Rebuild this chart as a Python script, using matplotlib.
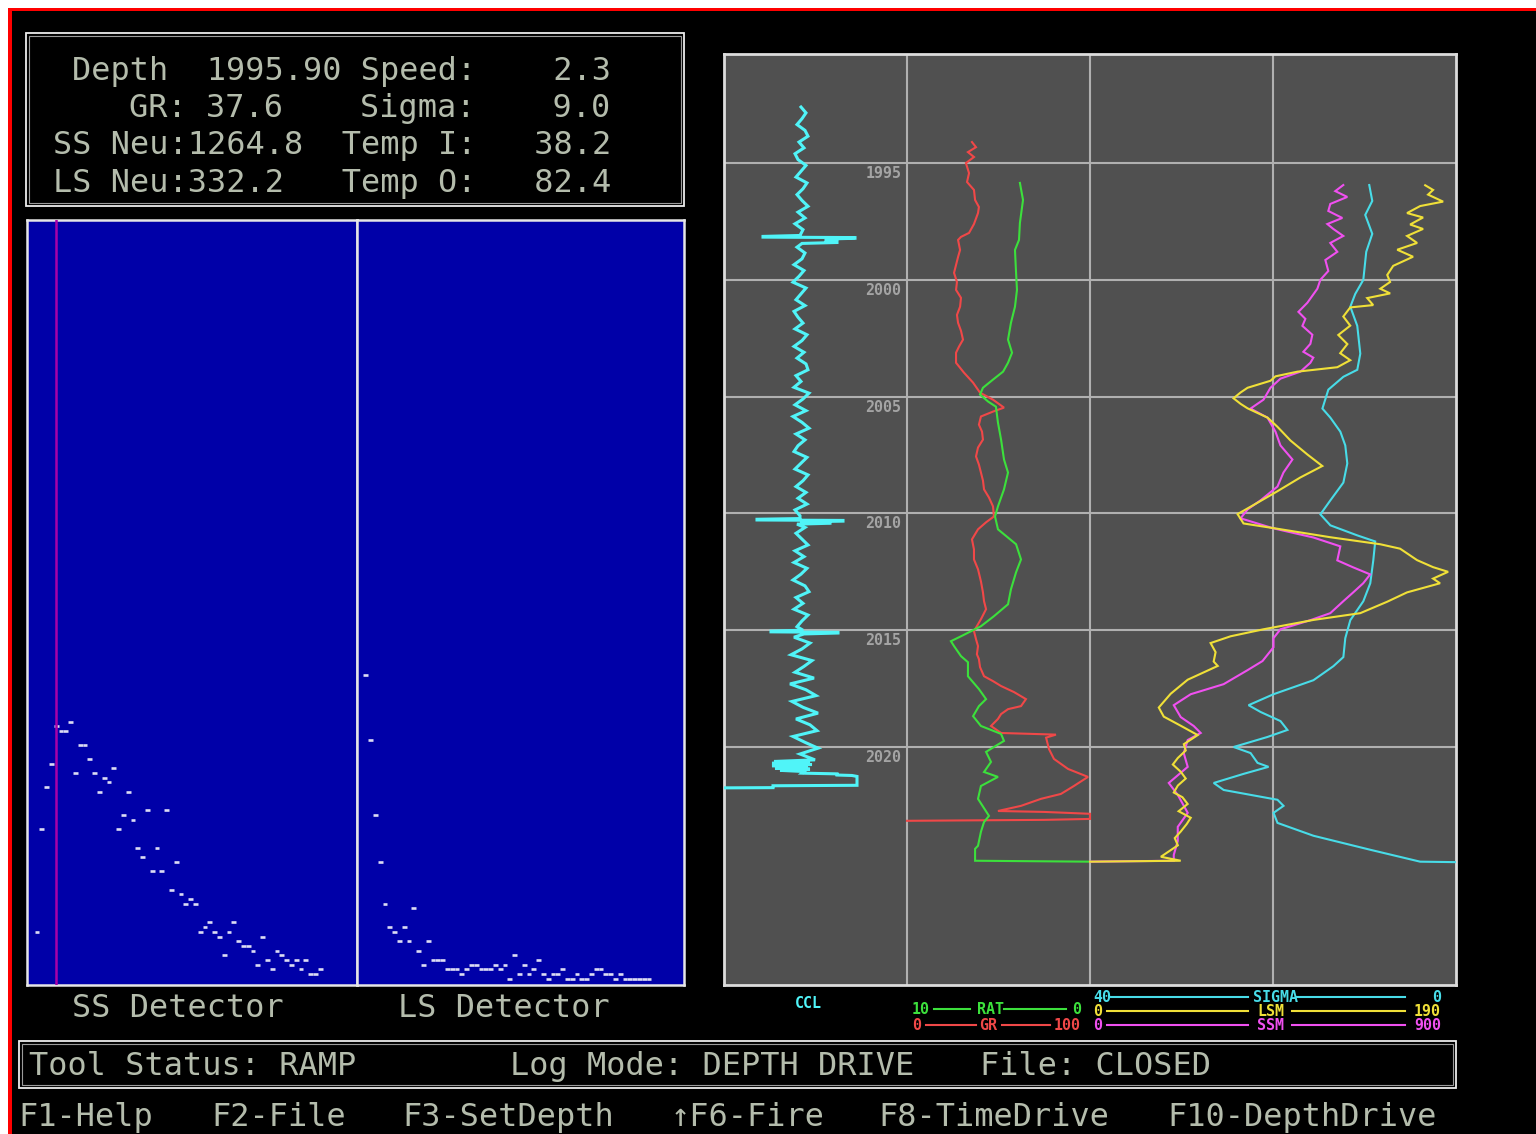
import matplotlib
matplotlib.use("Agg")
import matplotlib.pyplot as plt
from matplotlib.patches import Rectangle

W, H = 1536, 1134
MONO = ["DejaVu Sans Mono"]

# ---------------- readout / status text ----------------
readout_lines = [
    "    Depth  1995.90 Speed:    2.3",
    "       GR: 37.6    Sigma:    9.0",
    "   SS Neu:1264.8  Temp I:   38.2",
    "   LS Neu:332.2   Temp O:   82.4",
]
status_items = ["Tool Status: RAMP", "Log Mode: DEPTH DRIVE", "File: CLOSED"]
key_items = ["F1-Help", "F2-File", "F3-SetDepth", "\u2191F6-Fire", "F8-TimeDrive", "F10-DepthDrive"]
detector_titles = ["SS Detector", "LS Detector"]

# ---------------- detector time spectra ----------------
ss_channel = list(range(2, 62))
ss_level = [10, 32, 41, 46, 54, 53, 53, 55, 44, 50, 50, 47, 44, 40, 43, 42, 45, 32, 35, 40,
            34, 28, 26, 36, 23, 28, 23, 36, 19, 25, 18, 16, 17, 16, 10, 11, 12, 10, 9, 5,
            10, 12, 8, 7, 7, 6, 3, 9, 4, 2, 6, 5, 4, 3, 4, 2, 4, 1, 1, 2]
ss_gate = 5.875

ls_channel = list(range(1, 61))
ls_level = [65, 51, 35, 25, 16, 11, 10, 8, 11, 8, 15, 6, 3, 8, 4, 4, 4, 2, 2, 2,
            1, 2, 3, 3, 2, 2, 2, 3, 2, 3, 0, 5, 1, 3, 1, 2, 4, 1, 0, 1,
            1, 2, 0, 0, 1, 0, 0, 1, 2, 2, 1, 1, 0, 1, 0, 0, 0, 0, 0, 0]

# ---------------- depth log ----------------
depth_top, depth_base = 1990.33, 2030.19
grid_depths = [1995, 2000, 2005, 2010, 2015, 2020]

ccl_depth = [
    1992.60, 1992.85, 1993.10, 1993.35, 1993.60, 1993.85, 1994.10, 1994.35, 1994.60, 1994.85,
    1995.10, 1995.35, 1995.60, 1995.85, 1996.10, 1996.35, 1996.60, 1996.85, 1997.10, 1997.35,
    1997.60, 1997.85,
    1998.10, 1998.14, 1998.17, 1998.19, 1998.22, 1998.25, 1998.33, 1998.36, 1998.40, 1998.44,
    1998.60, 1998.85, 1999.10, 1999.35, 1999.60, 1999.85, 2000.10, 2000.35, 2000.60, 2000.85,
    2001.10, 2001.35, 2001.60, 2001.85, 2002.10, 2002.35, 2002.60, 2002.85, 2003.10, 2003.35,
    2003.60, 2003.85, 2004.10, 2004.35, 2004.60, 2004.85, 2005.10, 2005.35, 2005.60, 2005.85,
    2006.10, 2006.35, 2006.60, 2006.85, 2007.10, 2007.35, 2007.60, 2007.85, 2008.10, 2008.35,
    2008.60, 2008.85, 2009.10, 2009.35, 2009.60, 2009.85, 2010.10,
    2010.22, 2010.25, 2010.28, 2010.30, 2010.33, 2010.36, 2010.39, 2010.42, 2010.46,
    2010.60, 2010.85, 2011.10, 2011.35, 2011.60, 2011.85, 2012.10, 2012.35, 2012.60, 2012.85,
    2013.10, 2013.35, 2013.60, 2013.85, 2014.10, 2014.35, 2014.60, 2014.85,
    2015.00, 2015.04, 2015.07, 2015.09, 2015.12, 2015.16,
    2015.30, 2015.55, 2015.80, 2016.05, 2016.30, 2016.55, 2016.80, 2017.05, 2017.30, 2017.55,
    2017.80, 2018.05, 2018.30, 2018.55, 2018.80, 2019.05, 2019.30, 2019.55, 2019.80, 2020.05,
    2020.30, 2020.55,
    2020.62, 2020.66, 2020.70, 2020.75, 2020.80, 2020.85, 2020.90, 2020.95, 2021.00, 2021.05,
    2021.12, 2021.15, 2021.20, 2021.22, 2021.26, 2021.64, 2021.66, 2021.74, 2021.75,
]
ccl_value = [
    0.1, 0.6, 0.2, -0.3, 0.5, 0.8, -0.1, 0.4, -0.5, -0.2,
    0.6, 0.1, -0.4, 0.7, 0.3, -0.3, 0.2, 0.8, -0.2, 0.5,
    -0.5, 0.3,
    0.0, -3.7, -3.7, 5.5, 5.5, 2.8, 2.5, 3.7, 3.7, 0.2,
    -0.3, 0.5, 0.2, -0.6, 0.4, -0.1, -0.7, 0.6, 0.1, -0.4,
    0.5, -0.6, -0.2, 0.3, -0.5, 0.7, 0.2, -0.6, 0.4, -0.3,
    0.6, 0.8, -0.4, 0.1, -0.6, 0.9, 0.3, -0.5, 0.6, -0.7,
    0.2, 0.9, -0.4, 0.5, -0.2, -0.6, 0.7, 0.1, -0.5, 0.8,
    0.3, -0.4, 0.6, -0.2, 0.7, -0.5, 0.0,
    0.0, -4.3, -4.3, 4.3, 4.3, 0.0, 3.0, 3.0, -0.3,
    0.5, -0.4, 0.2, 0.8, -0.5, 0.4, -0.6, 0.7, 0.1, -0.7,
    0.5, 0.9, -0.4, 0.3, -0.6, 0.8, 0.2, -0.3,
    0.3, -2.9, -2.9, 3.8, 3.8, 0.4,
    -0.6, 1.0, 0.2, -0.9, 1.2, 0.4, -0.5, 1.4, -1.0, 0.6,
    1.6, -0.8, 0.3, 1.8, -0.4, 1.0, 1.7, -0.7, 0.5, 1.8,
    0.0, 1.5,
    -2.6, 1.0, -2.8, 1.2, -2.8, 0.8, -2.5, 1.0, -2.0, 0.4,
    0.2, 3.7, 3.7, 5.2, 5.7, 5.7, -2.7, -2.7, -7.6,
]

gr_depth = [
    1994.10, 1994.32, 1994.53, 1994.74, 1995.00, 1995.43, 1995.81, 1996.15, 1996.58, 1996.88,
    1997.14, 1997.61, 1997.99, 1998.16, 1998.29, 1998.72, 1999.02, 1999.36, 1999.70, 2000.09,
    2000.43, 2000.77, 2001.15, 2001.50, 2001.84, 2002.18, 2002.56, 2002.86, 2003.12, 2003.55,
    2003.97, 2004.40, 2004.83, 2005.13, 2005.47, 2005.64, 2005.85, 2006.20, 2006.50, 2006.84,
    2007.18, 2007.56, 2007.91, 2008.25, 2008.59, 2008.97, 2009.32, 2009.70, 2010.13, 2010.38,
    2010.68, 2011.11, 2011.54, 2011.97, 2012.39, 2012.91, 2013.38, 2013.76, 2014.10, 2014.53,
    2015.04, 2015.38, 2015.68, 2016.03, 2016.24, 2016.58, 2016.97, 2017.18, 2017.39, 2017.65,
    2017.95, 2018.25, 2018.38, 2018.59, 2018.80, 2019.10, 2019.40, 2019.47, 2019.60, 2020.09,
    2020.51, 2020.94, 2021.28, 2021.67, 2022.01, 2022.22, 2022.52, 2022.74, 2022.78, 2022.86,
    2023.08, 2023.12, 2023.16,
]
gr_value = [
    35.5, 37.7, 33.3, 36.6, 32.2, 33.9, 32.8, 36.6, 37.2, 39.3,
    38.8, 36.6, 33.9, 29.5, 27.9, 29.0, 27.9, 26.8, 25.7, 27.3,
    26.8, 29.5, 29.0, 27.3, 27.9, 29.5, 30.6, 28.4, 26.8, 26.8,
    31.1, 36.1, 39.9, 47.0, 53.0, 47.0, 40.4, 39.3, 41.0, 41.5,
    38.8, 37.7, 39.3, 40.4, 41.5, 42.1, 44.8, 47.0, 47.5, 43.2,
    38.8, 35.5, 36.6, 36.6, 38.8, 40.4, 41.5, 42.1, 43.2, 40.4,
    36.6, 37.7, 38.8, 38.2, 39.3, 39.9, 42.1, 47.0, 51.4, 58.5,
    65.0, 62.3, 55.2, 51.4, 49.7, 45.9, 51.4, 81.4, 76.0, 77.6,
    80.3, 88.0, 98.9, 91.2, 84.1, 73.2, 62.3, 49.7, 74.9, 100.0,
    100.0, 74.9, 0.0,
]

rat_depth = [
    1995.85, 1996.58, 1997.56, 1998.29, 1998.72, 1999.70, 2000.43, 2001.15, 2001.84, 2002.56,
    2003.12, 2003.55, 2003.93, 2004.27, 2004.62, 2004.91, 2005.21, 2005.43, 2006.11, 2006.84,
    2007.69, 2008.25, 2008.97, 2009.70, 2010.13, 2010.68, 2011.32, 2011.97, 2012.52, 2013.25,
    2013.89, 2014.40, 2014.83, 2015.26, 2015.47, 2015.68, 2016.11, 2016.37, 2016.97, 2017.52,
    2017.95, 2018.25, 2018.68, 2019.10, 2019.44, 2019.74, 2020.00, 2020.21, 2020.64, 2021.07,
    2021.28, 2021.67, 2022.22, 2022.95, 2023.21, 2023.63, 2024.23, 2024.36, 2024.87, 2024.91,
]
rat_value = [
    3.83, 3.66, 3.83, 3.88, 4.10, 4.04, 3.99, 4.10, 4.32, 4.48,
    4.26, 4.48, 4.75, 5.30, 5.85, 6.01, 5.57, 5.14, 5.03, 4.86,
    4.70, 4.48, 4.70, 5.03, 5.19, 5.03, 4.04, 3.77, 4.04, 4.32,
    4.48, 5.25, 5.96, 7.05, 7.60, 7.43, 7.05, 6.67, 6.67, 6.07,
    5.68, 6.07, 6.39, 5.96, 4.86, 4.70, 5.25, 5.68, 5.41, 5.79,
    5.03, 5.96, 6.12, 5.52, 5.79, 5.96, 6.12, 6.28, 6.28, 0.0,
]

sigma_depth = [
    1995.94, 1996.62, 1997.22, 1998.03, 1998.80, 2000.00, 2000.60, 2001.15, 2001.97, 2003.16,
    2003.85, 2004.15, 2004.70, 2005.51, 2005.90, 2006.50, 2007.09, 2007.86, 2008.68, 2009.44,
    2010.04, 2010.51, 2010.94, 2011.20, 2012.01, 2012.99, 2013.76, 2014.57, 2015.34, 2016.15,
    2016.54, 2017.14, 2017.74, 2018.21, 2018.50, 2018.89, 2019.27, 2019.57, 2020.00, 2020.26,
    2020.68, 2020.85, 2021.15, 2021.54, 2021.84, 2022.26, 2022.52, 2022.82, 2023.25, 2023.80,
    2024.40, 2024.91, 2024.93,
]
sigma_value = [
    9.48, 9.15, 9.92, 9.15, 9.81, 10.13, 11.01, 11.55, 10.79, 10.46,
    10.79, 12.31, 13.95, 14.60, 13.73, 12.64, 12.10, 11.88, 12.31, 13.73,
    14.82, 13.73, 10.79, 8.83, 9.04, 9.37, 10.13, 11.55, 12.10, 12.31,
    13.40, 15.58, 19.94, 22.67, 21.36, 19.18, 18.42, 20.60, 24.30, 22.45,
    21.69, 20.49, 23.21, 26.48, 25.39, 19.51, 18.85, 19.94, 19.51, 15.58,
    9.37, 3.92, 0.0,
]

lsm_depth = [
    1995.95, 1996.15, 1996.35, 1996.65, 1996.84, 1997.14, 1997.33, 1997.63, 1997.82, 1998.12,
    1998.42, 1998.71, 1999.01, 1999.40, 1999.79, 2000.09, 2000.38, 2000.58, 2000.78, 2001.08,
    2001.18, 2001.57, 2001.96, 2002.36, 2002.75, 2003.14, 2003.44, 2003.74, 2003.93, 2004.13,
    2004.32, 2004.62, 2004.82, 2005.07, 2005.31, 2005.50, 2005.90, 2006.29, 2006.88, 2007.48,
    2007.97, 2008.46, 2009.05, 2009.64, 2010.03, 2010.43, 2010.63, 2011.02, 2011.32, 2011.51,
    2012.00, 2012.30, 2012.50, 2012.79, 2012.99, 2013.38, 2013.78, 2014.27, 2014.56, 2014.96,
    2015.26, 2015.55, 2015.94, 2016.34, 2016.53, 2017.12, 2017.72, 2018.31, 2018.70, 2019.09,
    2019.49, 2019.88, 2020.15, 2020.47, 2020.75, 2021.06, 2021.35, 2021.65, 2021.95, 2022.15,
    2022.44, 2022.75, 2023.03, 2023.30, 2023.62, 2023.90, 2024.21, 2024.70, 2024.87, 2024.91,
]
lsm_value = [
    174.0, 178.1, 175.5, 183.3, 171.4, 164.6, 172.9, 166.2, 172.9, 164.6,
    169.8, 159.5, 167.7, 157.4, 154.3, 155.8, 150.7, 155.8, 143.9, 147.0,
    135.1, 131.5, 135.1, 128.9, 133.6, 129.9, 135.1, 128.4, 107.7, 96.3,
    93.7, 81.8, 78.2, 74.5, 78.2, 81.8, 92.2, 97.3, 104.1, 112.9,
    120.6, 109.2, 97.3, 84.9, 76.6, 79.7, 95.3, 124.8, 150.7, 161.0,
    169.8, 178.1, 185.9, 178.1, 181.7, 164.6, 154.3, 140.3, 116.0, 90.1,
    73.0, 62.6, 65.2, 64.2, 66.3, 50.7, 41.9, 35.7, 38.3, 47.1,
    55.9, 48.7, 49.7, 45.6, 43.0, 47.1, 49.7, 45.6, 43.5, 48.0,
    50.7, 46.0, 52.3, 50.2, 47.1, 44.0, 45.6, 36.8, 47.1, 0.0,
]

ssm_depth = [
    1995.94, 1996.20, 1996.45, 1996.75, 1997.05, 1997.35, 1997.61, 1997.82, 1998.12, 1998.42,
    1998.80, 1999.15, 1999.62, 2000.00, 2000.38, 2000.68, 2000.98, 2001.37, 2001.67, 2001.97,
    2002.35, 2002.74, 2003.08, 2003.33, 2003.55, 2003.93, 2004.23, 2004.62, 2005.13, 2005.51,
    2005.90, 2006.50, 2007.09, 2007.69, 2008.25, 2008.85, 2009.44, 2009.83, 2010.21, 2010.64,
    2011.03, 2011.41, 2012.01, 2012.31, 2012.61, 2012.99, 2013.38, 2013.76, 2014.27, 2014.57,
    2014.96, 2015.34, 2015.73, 2016.32, 2016.71, 2017.31, 2017.74, 2018.21, 2018.72, 2019.10,
    2019.40, 2019.70, 2020.26, 2020.85, 2021.54, 2022.05, 2022.82, 2023.42, 2024.02, 2024.62,
    2024.87, 2024.91,
]
ssm_value = [
    622.8, 603.2, 632.6, 590.9, 586.0, 620.4, 583.6, 598.3, 622.8, 590.9,
    608.1, 578.7, 586.0, 566.4, 559.1, 546.8, 534.5, 512.5, 529.6, 522.3,
    546.8, 541.9, 524.7, 549.2, 541.9, 517.4, 468.3, 443.8, 426.6, 394.8,
    436.5, 456.1, 468.3, 497.8, 475.7, 461.0, 419.3, 387.4, 370.3, 451.2,
    549.2, 615.5, 608.1, 647.3, 689.0, 671.8, 647.3, 622.8, 590.9, 541.9,
    468.3, 451.2, 451.2, 424.2, 387.4, 328.6, 247.7, 206.0, 223.1, 255.0,
    272.2, 240.3, 230.5, 240.3, 193.7, 215.8, 240.3, 215.8, 215.8, 206.0,
    206.0, 0.0,
]

# curve name, scale left, scale right, first track, last track, colour
curve_names = ["CCL", "GR", "RAT", "SIGMA", "SSM", "LSM"]
curve_left = [-7.6, 0, 10, 40, 0, 0]
curve_right = [10.7, 100, 0, 0, 900, 190]
curve_tracks = [(0, 1), (1, 2), (1, 2), (2, 4), (2, 4), (2, 4)]
curve_colors = ["#50f4f8", "#f04848", "#3ce03c", "#48dce8", "#f050f0", "#f0e038"]
curve_data = [(ccl_depth, ccl_value), (gr_depth, gr_value), (rat_depth, rat_value),
              (sigma_depth, sigma_value), (ssm_depth, ssm_value), (lsm_depth, lsm_value)]
curve_lw = [2.2, 1.5, 1.5, 1.5, 1.5, 1.5]
n_tracks = 4

TXT = "#b4bcac"
PLOT_BG = "#505050"
GRID_C = "#b0b0b0"
BLUE = "#0000a8"
DASH_C = "#dcdcf4"
GATE_C = "#a800a8"
CELL = 19.2          # width of one text column in pixels
FS_BIG = 22.96       # monospace size giving one column per character
FS_SMALL = 10.8


fig = plt.figure(figsize=(W / 100, H / 100), dpi=100, facecolor="white")

# screen layer in pixel coordinates
scr = fig.add_axes([0, 0, 1, 1])
scr.set_xlim(0, W)
scr.set_ylim(H, 0)
scr.axis("off")
scr.add_patch(Rectangle((8, 8), W, H, facecolor="#ff0000", edgecolor="none"))
scr.add_patch(Rectangle((12, 11), W, H, facecolor="black", edgecolor="none"))


def frame(x0, y0, x1, y1):
    scr.add_patch(Rectangle((x0, y0), x1 - x0, y1 - y0, fill=False,
                            edgecolor="#ececec", lw=1.3, zorder=3))
    scr.add_patch(Rectangle((x0 + 3, y0 + 3), x1 - x0 - 6, y1 - y0 - 6, fill=False,
                            edgecolor="#9a9a9a", lw=0.8, zorder=3))


def big_text(x, y, s, **kw):
    scr.text(x, y, s, fontsize=FS_BIG, family=MONO, color=TXT,
             ha="left", va="baseline", **kw)


# readout box
frame(26, 33, 684, 206)
for line, base in zip(readout_lines, [80, 117, 154, 192]):
    col = len(line) - len(line.lstrip())
    big_text(col * CELL - 5, base, line.lstrip())

# status box and key line
frame(19, 1041, 1456, 1088)
for s, x in zip(status_items, [29, 510, 980]):
    big_text(x, 1075, s)
for s, x in zip(key_items, [18, 211, 402, 671, 878, 1167]):
    big_text(x, 1126, s)
for s, x in zip(detector_titles, [72, 398]):
    big_text(x, 1017, s)


def px_axes(x0, y0, x1, y1):
    return fig.add_axes([x0 / W, 1 - y1 / H, (x1 - x0) / W, (y1 - y0) / H])


# ---- detector spectra ----
def spectrum(ax, channels, levels, xlim):
    ax.set_facecolor(BLUE)
    ax.set_xlim(*xlim)
    ax.set_ylim(-1.39, 162.5)
    ax.set_xticks([])
    ax.set_yticks([])
    for sp in ax.spines.values():
        sp.set_color("#e6e6e6")
        sp.set_linewidth(1.8)
    ax.hlines(levels, [c - 0.5 for c in channels], [c + 0.5 for c in channels],
              color=DASH_C, lw=1.9, zorder=2)


ax_ss = px_axes(27, 220, 357, 985)
spectrum(ax_ss, ss_channel, ss_level, (-0.1, 68.65))
ax_ss.axvline(ss_gate, color=GATE_C, lw=1.8, zorder=3)

ax_ls = px_axes(357, 220, 684, 985)
spectrum(ax_ls, ls_channel, ls_level, (-0.83, 67.29))

# ---- depth log ----
ax_log = px_axes(724, 54, 1456, 985)
ax_log.set_facecolor(PLOT_BG)
ax_log.set_xlim(0, n_tracks)
ax_log.set_ylim(depth_base, depth_top)
ax_log.set_xticks(range(1, n_tracks))
ax_log.set_yticks(grid_depths)
ax_log.grid(True, color=GRID_C, lw=1.5)
ax_log.set_axisbelow(True)
ax_log.tick_params(length=0, labelleft=False, labelbottom=False)
for sp in ax_log.spines.values():
    sp.set_color("#dcdcdc")
    sp.set_linewidth(2.0)
for d in grid_depths:
    ax_log.text(0.97, d + 0.45, f"{d}", ha="right", va="center", fontsize=FS_SMALL,
                family=MONO, fontweight="bold", color="#a4a4a4")

for (dep, val), lo, hi, (ta, tb), colr, lw in zip(curve_data, curve_left, curve_right,
                                                   curve_tracks, curve_colors, curve_lw):
    tw = ax_log.twiny()
    per_track = (hi - lo) / (tb - ta)
    tw.set_xlim(lo - ta * per_track, lo + (n_tracks - ta) * per_track)
    tw.set_ylim(depth_base, depth_top)
    tw.axis("off")
    tw.plot(val, dep, color=colr, lw=lw, solid_joinstyle="miter")

# ---- scale legend under the tracks ----
def small_text(x, y, s, color, ha):
    scr.text(x, y, s, fontsize=FS_SMALL, family=MONO, fontweight="bold",
             color=color, ha=ha, va="center")


def legend_row(i, y, x_left, x_name, x_right, seg1, seg2):
    c = curve_colors[i]
    small_text(x_left, y, f"{curve_left[i]:g}", c, "left")
    small_text(x_name, y, curve_names[i], c, "center")
    small_text(x_right, y, f"{curve_right[i]:g}", c, "right")
    scr.plot(seg1, [y, y], color=c, lw=1.5)
    scr.plot(seg2, [y, y], color=c, lw=1.5)


small_text(808, 1004, curve_names[0], curve_colors[0], "center")
legend_row(2, 1009, 912, 990, 1081, (934, 970), (1004, 1066))
legend_row(1, 1025, 912, 988, 1081, (926, 976), (1002, 1050))
legend_row(3, 997, 1093, 1276, 1441, (1111, 1248), (1297, 1405))
legend_row(5, 1011, 1093, 1271, 1441, (1107, 1248), (1292, 1405))
legend_row(4, 1025, 1093, 1271, 1441, (1107, 1248), (1292, 1405))

fig.savefig("out.png", dpi=100, facecolor=fig.get_facecolor())
